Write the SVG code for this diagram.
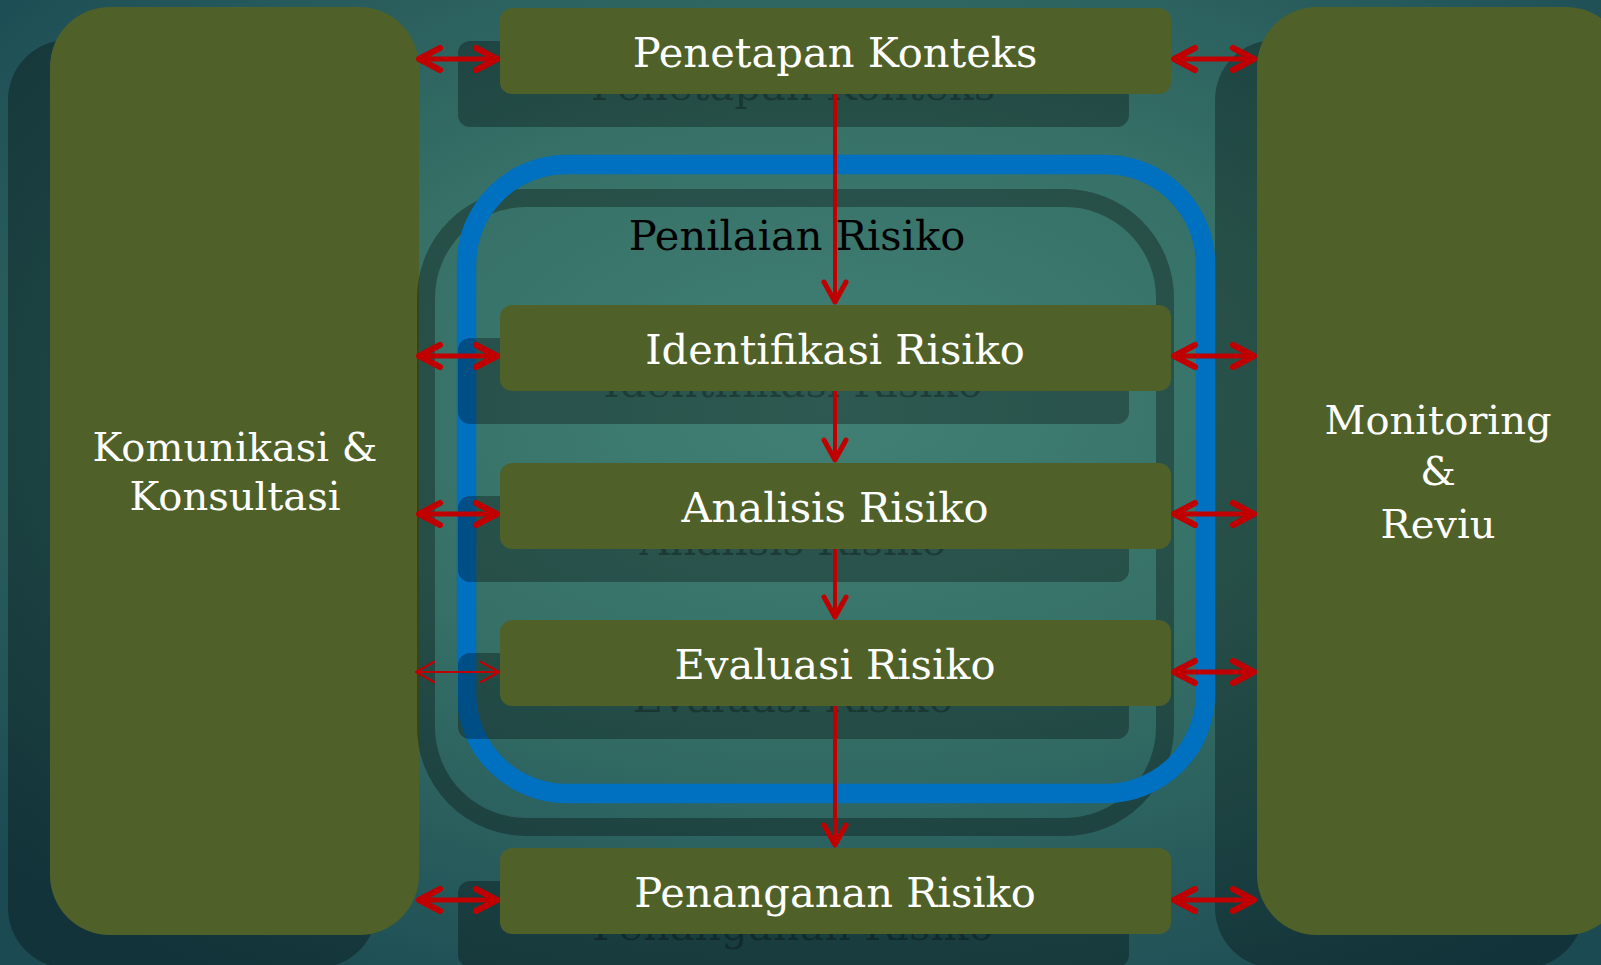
<svg xmlns="http://www.w3.org/2000/svg" width="1601" height="965" viewBox="0 0 1601 965">
<style>
.box{fill:#4f6129}
.shd{fill:#000;fill-opacity:0.3}
.t{font-family:"DejaVu Serif","Liberation Serif",serif;font-size:41.6px;fill:#fff;text-anchor:middle}
.ts{font-family:"DejaVu Serif","Liberation Serif",serif;font-size:41.6px;fill:#000;fill-opacity:0.28;text-anchor:middle}
.side{font-family:"DejaVu Serif","Liberation Serif",serif;font-size:40px;fill:#fff;text-anchor:middle}
.ln{stroke:#c00000;fill:none}
</style>
<defs>
<radialGradient id="bg" cx="52%" cy="42%" r="70%">
<stop offset="0" stop-color="#418075"/>
<stop offset="0.45" stop-color="#367066"/>
<stop offset="1" stop-color="#1b4a53"/>
</radialGradient>
<marker id="ah" markerUnits="userSpaceOnUse" markerWidth="40" markerHeight="40" refX="0" refY="0" orient="auto-start-reverse" overflow="visible">
<path d="M-21,-11 L0,0 L-21,11" fill="none" stroke="#c00000" stroke-width="6" stroke-linecap="round" stroke-linejoin="round"/>
</marker>
<marker id="av" markerUnits="userSpaceOnUse" markerWidth="40" markerHeight="40" refX="0" refY="0" orient="auto" overflow="visible">
<path d="M-20,-11 L0,0 L-20,11" fill="none" stroke="#c00000" stroke-width="5" stroke-linecap="round" stroke-linejoin="round"/>
</marker>
<marker id="at" markerUnits="userSpaceOnUse" markerWidth="40" markerHeight="40" refX="0" refY="0" orient="auto-start-reverse" overflow="visible">
<path d="M-18,-10 L0,0 L-18,10" fill="none" stroke="#c00000" stroke-width="2.2" stroke-linecap="round" stroke-linejoin="round"/>
</marker>
</defs>
<rect x="0" y="0" width="1601" height="965" fill="url(#bg)"/>

<g id="komunikasi">
<rect class="shd" x="8" y="40" width="369" height="928" rx="60"/>
<rect class="box" x="50" y="7" width="369" height="928" rx="60"/>
<text class="side" x="235" y="461">Komunikasi &amp;</text>
<text class="side" x="235" y="510">Konsultasi</text>
</g>

<g id="monitoring">
<rect class="shd" x="1215" y="40" width="369" height="928" rx="60"/>
<rect class="box" x="1257" y="7" width="369" height="928" rx="60"/>
<text class="side" x="1438" y="434">Monitoring</text>
<text class="side" x="1438" y="485">&amp;</text>
<text class="side" x="1438" y="538">Reviu</text>
</g>

<g id="penilaian">
<rect x="426" y="198" width="739" height="629" rx="100" fill="none" stroke="#000" stroke-opacity="0.3" stroke-width="18"/>
<rect x="466.5" y="164.5" width="739" height="629" rx="100" fill="none" stroke="#0070c0" stroke-width="19.5"/>
<text x="797" y="250" font-family="DejaVu Serif, Liberation Serif, serif" font-size="41.6" fill="#000" text-anchor="middle">Penilaian Risiko</text>
</g>

<g id="penetapan">
<rect class="shd" x="458" y="41" width="671" height="86" rx="12"/>
<text class="ts" x="793" y="100">Penetapan Konteks</text>
<rect class="box" x="500" y="8" width="671" height="86" rx="12"/>
<text class="t" x="835" y="67">Penetapan Konteks</text>
</g>

<g id="identifikasi">
<rect class="shd" x="458" y="338" width="671" height="86" rx="12"/>
<text class="ts" x="793" y="397">Identifikasi Risiko</text>
<rect class="box" x="500" y="305" width="671" height="86" rx="12"/>
<text class="t" x="835" y="364">Identifikasi Risiko</text>
</g>

<g id="analisis">
<rect class="shd" x="458" y="496" width="671" height="86" rx="12"/>
<text class="ts" x="793" y="555">Analisis Risiko</text>
<rect class="box" x="500" y="463" width="671" height="86" rx="12"/>
<text class="t" x="835" y="522">Analisis Risiko</text>
</g>

<g id="evaluasi">
<rect class="shd" x="458" y="653" width="671" height="86" rx="12"/>
<text class="ts" x="793" y="712">Evaluasi Risiko</text>
<rect class="box" x="500" y="620" width="671" height="86" rx="12"/>
<text class="t" x="835" y="679">Evaluasi Risiko</text>
</g>

<g id="penanganan">
<rect class="shd" x="458" y="881" width="671" height="86" rx="12"/>
<text class="ts" x="793" y="940">Penanganan Risiko</text>
<rect class="box" x="500" y="848" width="671" height="86" rx="12"/>
<text class="t" x="835" y="907">Penanganan Risiko</text>
</g>

<g id="connectors">
<line class="ln" x1="835" y1="94" x2="835" y2="302" stroke-width="4" marker-end="url(#av)"/>
<line class="ln" x1="835" y1="391" x2="835" y2="460" stroke-width="4" marker-end="url(#av)"/>
<line class="ln" x1="835" y1="549" x2="835" y2="617" stroke-width="4" marker-end="url(#av)"/>
<line class="ln" x1="835" y1="706" x2="835" y2="845" stroke-width="4" marker-end="url(#av)"/>

<line class="ln" x1="419" y1="59" x2="497" y2="59" stroke-width="5" marker-start="url(#ah)" marker-end="url(#ah)"/>
<line class="ln" x1="419" y1="356" x2="497" y2="356" stroke-width="5" marker-start="url(#ah)" marker-end="url(#ah)"/>
<line class="ln" x1="419" y1="514" x2="497" y2="514" stroke-width="5" marker-start="url(#ah)" marker-end="url(#ah)"/>
<line class="ln" x1="416" y1="672" x2="499" y2="672" stroke-width="1.8" marker-start="url(#at)" marker-end="url(#at)"/>
<line class="ln" x1="419" y1="900" x2="497" y2="900" stroke-width="5" marker-start="url(#ah)" marker-end="url(#ah)"/>

<line class="ln" x1="1174" y1="59" x2="1254" y2="59" stroke-width="5" marker-start="url(#ah)" marker-end="url(#ah)"/>
<line class="ln" x1="1174" y1="356" x2="1254" y2="356" stroke-width="5" marker-start="url(#ah)" marker-end="url(#ah)"/>
<line class="ln" x1="1174" y1="514" x2="1254" y2="514" stroke-width="5" marker-start="url(#ah)" marker-end="url(#ah)"/>
<line class="ln" x1="1174" y1="672" x2="1254" y2="672" stroke-width="5" marker-start="url(#ah)" marker-end="url(#ah)"/>
<line class="ln" x1="1174" y1="900" x2="1254" y2="900" stroke-width="5" marker-start="url(#ah)" marker-end="url(#ah)"/>
</g>
</svg>
